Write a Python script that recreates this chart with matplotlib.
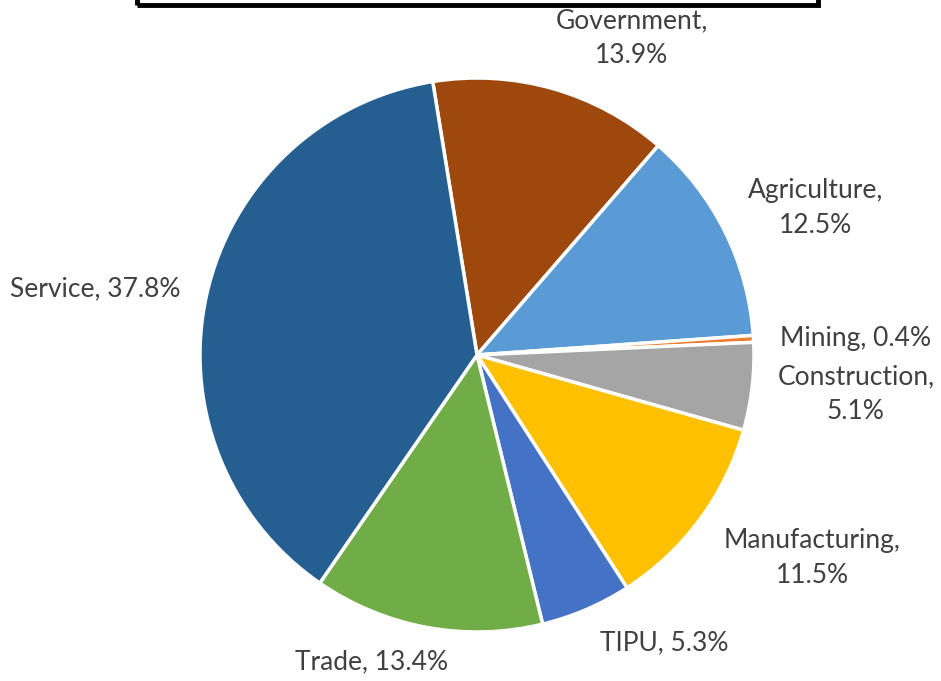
import matplotlib.pyplot as plt
from matplotlib.patches import Rectangle

# Share of each sector (%), clockwise from the top
sectors = ['Government', 'Agriculture', 'Mining', 'Construction',
           'Manufacturing', 'TIPU', 'Trade', 'Service']
shares = [13.9, 12.5, 0.4, 5.1, 11.5, 5.3, 13.4, 37.8]
colors = ['#9E480E', '#5B9BD5', '#ED7D31', '#A5A5A5',
          '#FFC000', '#4472C4', '#70AD47', '#255E91']
# label text, with a line break where the chart wraps it
label_breaks = [True, True, False, True, True, False, False, False]

# label centres in pixels (layout only)
label_px = [(632, 38), (816, 208), (856, 338), (856, 394),
            (812, 558), (664, 643), (372, 662), (95, 289)]

W, H = 941, 681
cx, cy, r = 477, 355, 277

fig = plt.figure(figsize=(W / 100, H / 100), dpi=100)
ax = fig.add_axes([0, 0, 1, 1])
ax.axis('off')

ax.pie(shares, colors=colors, startangle=99.2, counterclock=False,
       radius=1, center=(0, 0),
       wedgeprops=dict(edgecolor='white', linewidth=2.5))
ax.set_xlim(-cx / r, (W - cx) / r)
ax.set_ylim(-(H - cy) / r, cy / r)

for name, val, brk, (px, py) in zip(sectors, shares, label_breaks, label_px):
    txt = f'{name},\n{val}%' if brk else f'{name}, {val}%'
    ax.text((px - cx) / r, (cy - py) / r, txt, ha='center', va='center',
            fontsize=19, color='#404040', family='Lato', linespacing=1.5)

# title box cut off at the top
fig.patches.append(Rectangle((137 / W, 1 - 5 / H), (818 - 137) / W, 20 / H,
                             transform=fig.transFigure, fill=False,
                             edgecolor='black', linewidth=3.5))

fig.savefig('out.png', dpi=100)
